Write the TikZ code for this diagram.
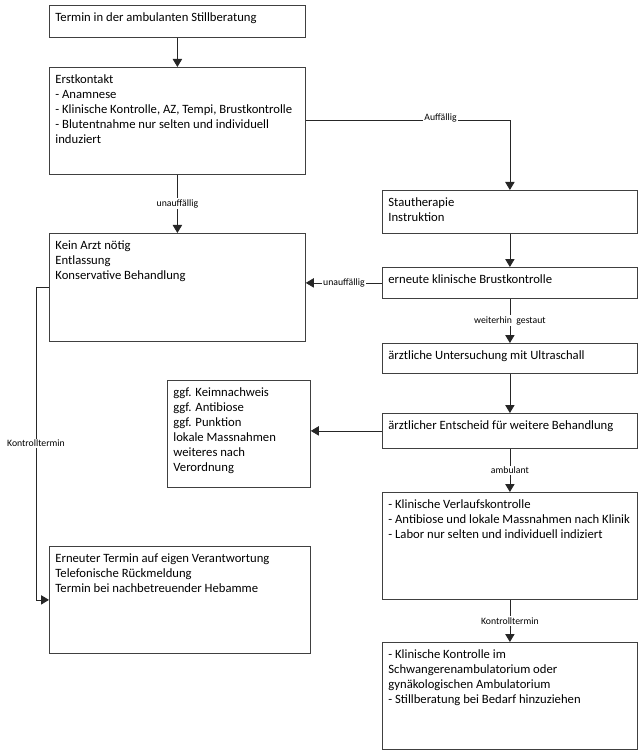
\documentclass[tikz,border=0pt]{standalone}
\usepackage{fontspec}
\setmainfont{Carlito}
\usepackage{tikz}
\usetikzlibrary{arrows.meta}
% Kasteninhalt: Breite und Hoehe in Pixel, Text oben links
\newcommand{\kasten}[3]{\parbox[c][\dimexpr(#2pt-8pt)*3/4\relax][t]{\dimexpr(#1pt-12pt)*3/4\relax}{\vspace*{2.5pt}\raggedright #3}}

\begin{document}
\begin{tikzpicture}[x=0.75pt,y=-0.75pt,
		box/.style={draw=black!75, line width=0.6pt, anchor=north west, inner xsep=4.5pt, inner ysep=3pt, font=\fontsize{9.5}{11.25}\selectfont},
		pfeil/.style={-{Triangle[length=6pt,width=7pt]}, draw=black!85, line width=0.6pt},
		lbl/.style={fill=white, inner sep=1pt, font=\fontsize{7.3}{8}\selectfont}]
		\useasboundingbox (0,0) rectangle (642,755);
		% Linke Spalte
		\node[box] (termin) at (49,5) {\kasten{256}{32}{Termin in der ambulanten Stillberatung}};
		\node[box] (erst) at (49,67) {\kasten{256}{107}{Erstkontakt\\- Anamnese\\- Klinische Kontrolle, AZ, Tempi, Brustkontrolle\\- Blutentnahme nur selten und individuell\\induziert}};
		\node[box] (kein) at (49,233) {\kasten{256}{108}{Kein Arzt nötig\\Entlassung\\Konservative Behandlung}};
		\node[box] (ggf) at (167,380) {\kasten{143}{107}{ggf. Keimnachweis\\ggf. Antibiose\\ggf. Punktion\\lokale Massnahmen\\weiteres nach\\Verordnung}};
		\node[box] (erneut) at (49,546) {\kasten{261}{107}{Erneuter Termin auf eigen Verantwortung\\Telefonische Rückmeldung\\Termin bei nachbetreuender Hebamme}};
		% Rechte Spalte
		\node[box] (stau) at (382,190) {\kasten{255}{43}{Stautherapie\\Instruktion}};
		\node[box] (brust) at (382,267) {\kasten{255}{31}{erneute klinische Brustkontrolle}};
		\node[box] (ultra) at (382,343) {\kasten{255}{30}{ärztliche Untersuchung mit Ultraschall}};
		\node[box] (entscheid) at (382,413) {\kasten{255}{35}{ärztlicher Entscheid für weitere Behandlung}};
		\node[box] (verlauf) at (382,492) {\kasten{255}{107}{- Klinische Verlaufskontrolle\\- Antibiose und lokale Massnahmen nach Klinik\\- Labor nur selten und individuell indiziert}};
		\node[box] (ambu) at (382,642) {\kasten{255}{107}{- Klinische Kontrolle im\\Schwangerenambulatorium oder\\gynäkologischen Ambulatorium\\- Stillberatung bei Bedarf hinzuziehen}};
		% Verbindungen
		\draw[pfeil] (termin) -- (erst);
		\draw[pfeil] (erst) -- node[lbl]{unauffällig} (kein);
		\draw[pfeil] (erst.east) -| node[lbl, pos=0.33, yshift=2pt]{Auffällig} (stau.north);
		\draw[pfeil] (stau) -- (brust);
		\draw[pfeil] (brust.west) -- node[lbl]{unauffällig} (brust.west -| kein.east);
		\draw[pfeil] (brust) -- node[lbl]{weiterhin\ \ gestaut} (ultra);
		\draw[pfeil] (ultra) -- (entscheid);
		\draw[pfeil] (entscheid.west) -- (entscheid.west -| ggf.east);
		\draw[pfeil] (entscheid) -- node[lbl]{ambulant} (verlauf);
		\draw[pfeil] (verlauf) -- node[lbl]{Kontrolltermin} (ambu);
		\draw[pfeil] (kein.west) -- ++(-13,0) |- node[lbl, pos=0.25]{Kontrolltermin} (erneut.west);
	\end{tikzpicture}
\end{document}
